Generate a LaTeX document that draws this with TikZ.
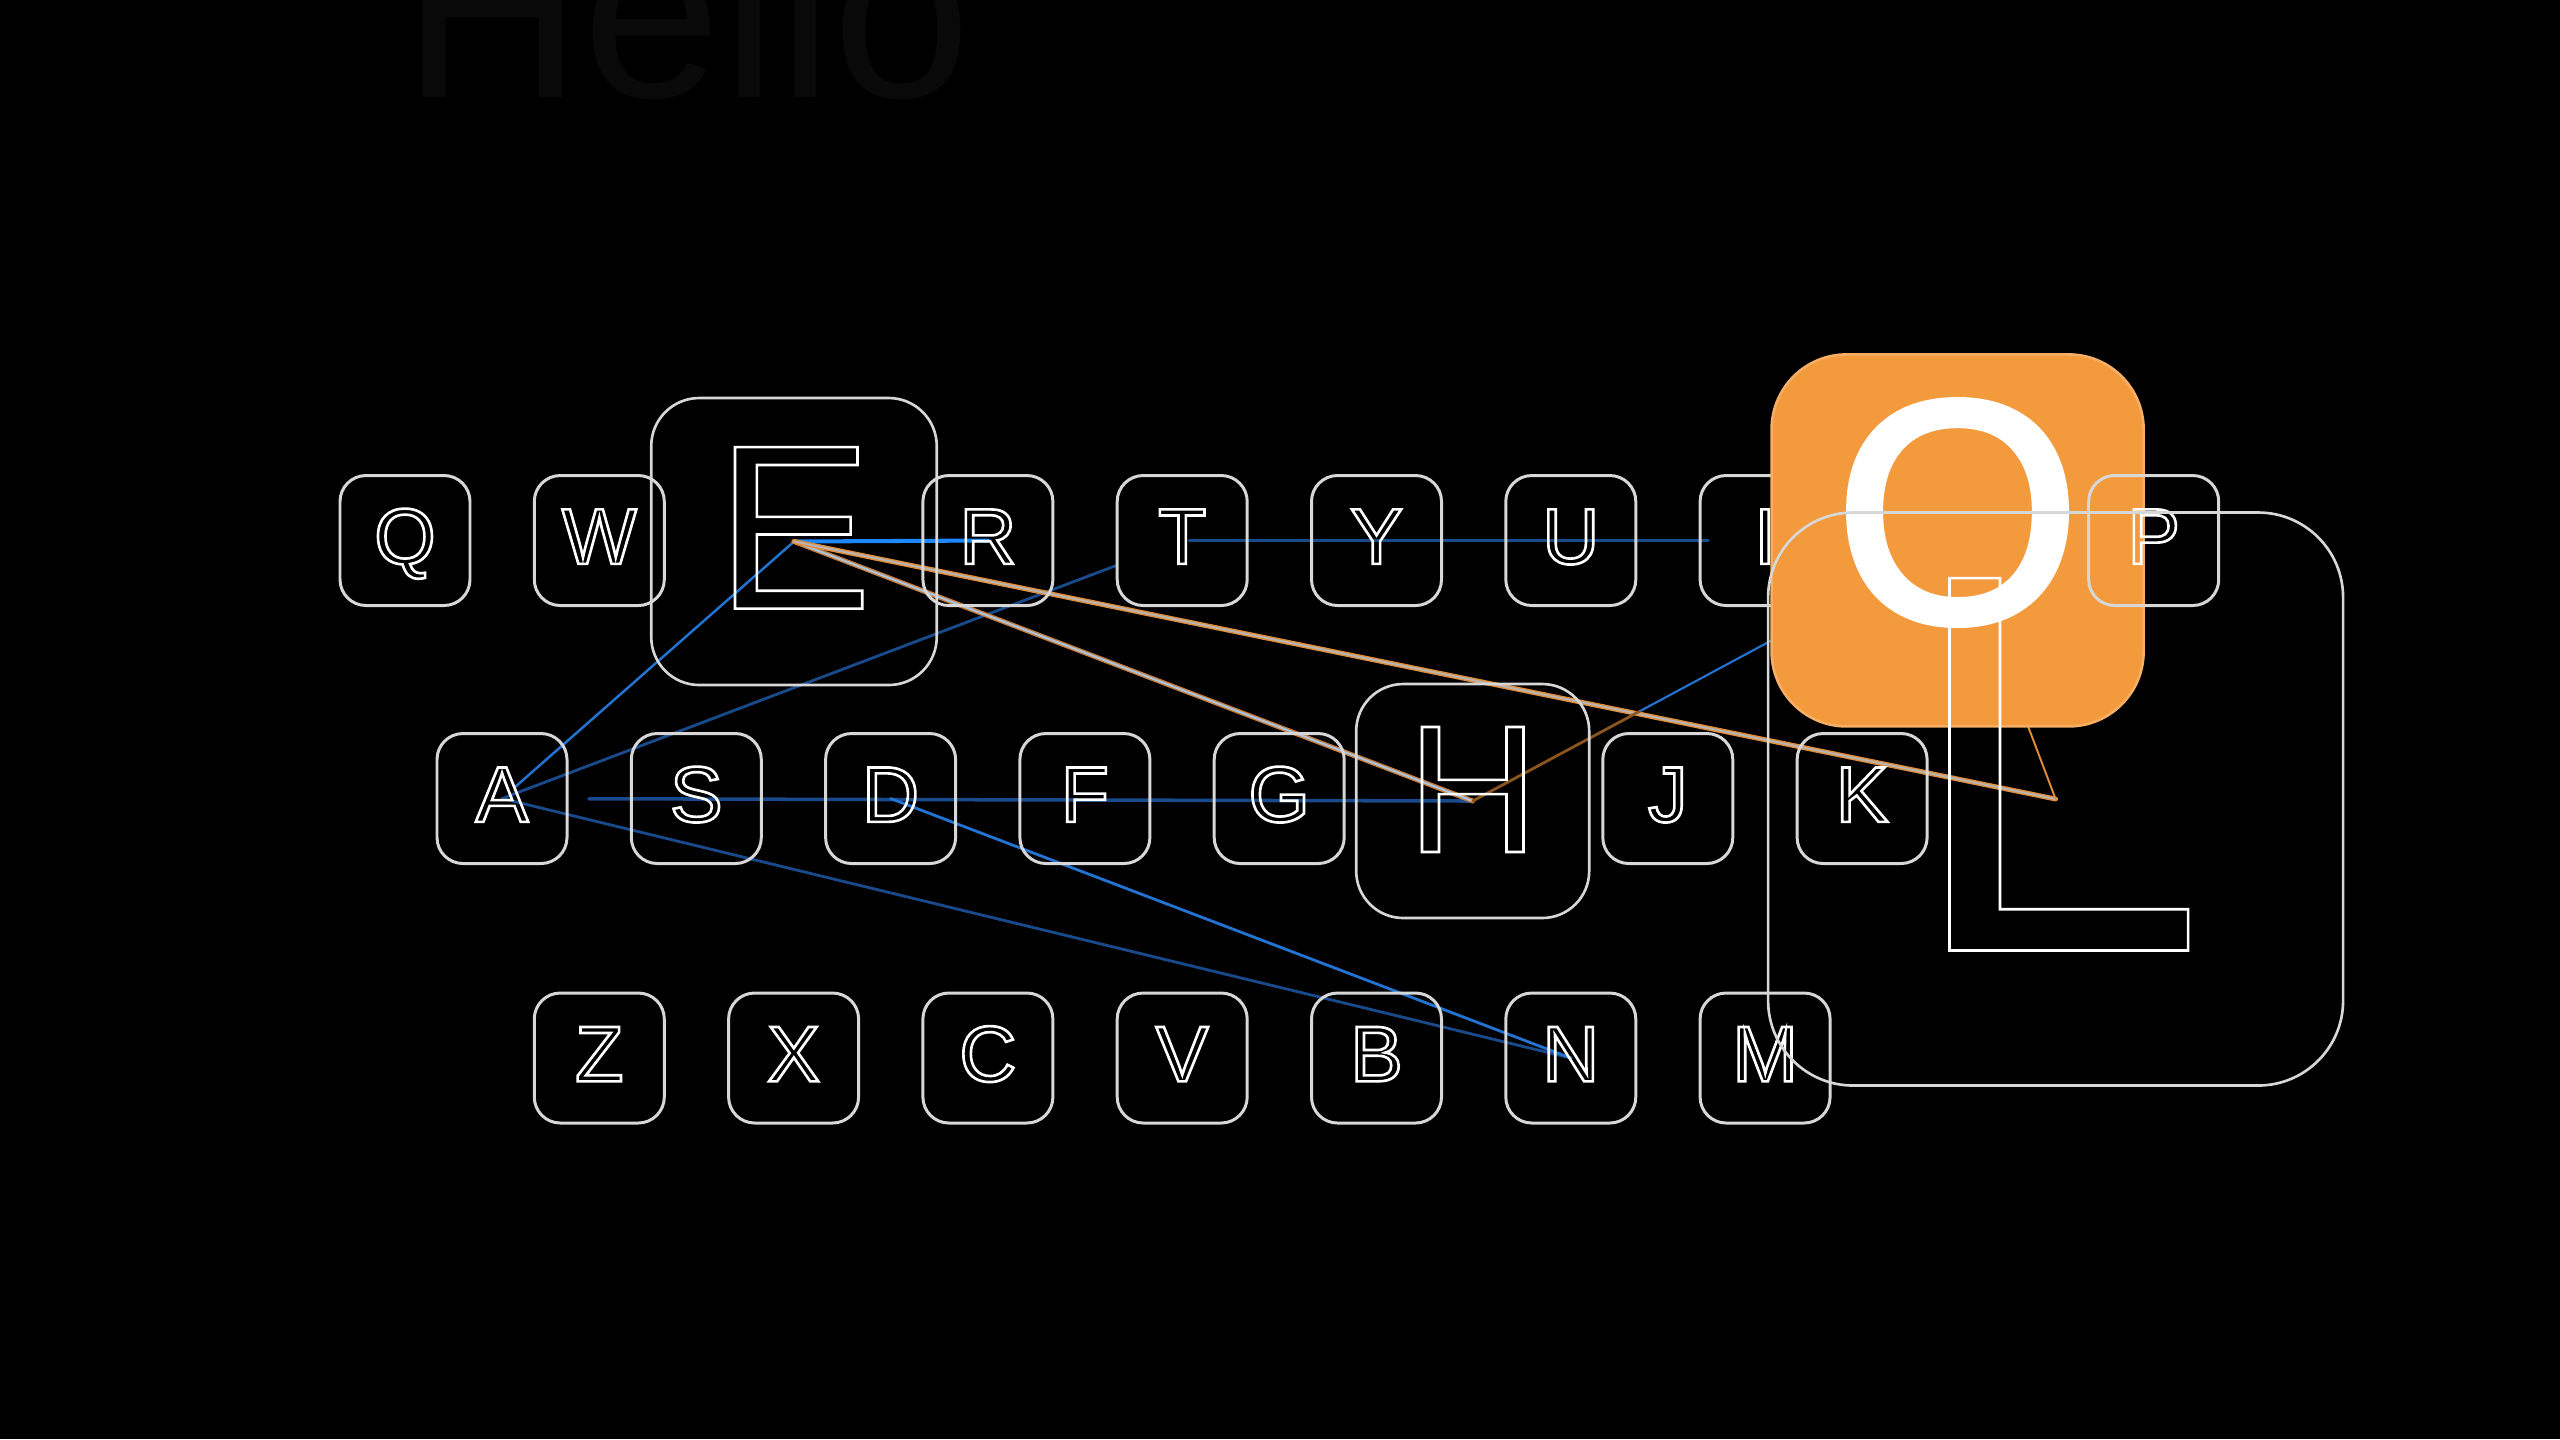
\documentclass[tikz,border=0pt]{standalone}
\usepackage{fontspec}
\setmainfont{Liberation Sans}
\definecolor{keyline}{RGB}{215,215,215}
\definecolor{swipeorange}{RGB}{243,154,60}
\definecolor{trailorange}{RGB}{225,140,55}
\definecolor{dimorange}{RGB}{140,85,30}
\definecolor{brightblue}{RGB}{30,136,255}
\definecolor{midblue}{RGB}{35,115,210}
\definecolor{dimblue}{RGB}{25,75,140}
\definecolor{ghost}{RGB}{9,9,9}
% outlined letters (stroke only)
\newcommand\strokeon{\special{pdf:literal direct 1 Tr 0.75 w}}
\newcommand\strokeoff{\special{pdf:literal direct 0 Tr}}
\newcommand\fatten{\special{pdf:literal direct 2 Tr 2 w}}
\pgfdeclarelayer{trail}
\pgfsetlayers{trail,main}
\tikzset{
  key/.style={draw=keyline, line width=0.85pt, rounded corners=0.26cm,
    minimum width=1.3cm, minimum height=1.3cm, inner sep=0pt, text=white,
    font=\fontsize{22.5pt}{22.5pt}\selectfont, text height=0.566cm, text depth=0.10cm,
    execute at begin node=\strokeon, execute at end node=\strokeoff},
  bigkey/.style={key, line width=0.75pt},
  trail/.style={line width=0.8pt, line cap=round},
}
\begin{document}
\begin{tikzpicture}
	\useasboundingbox (0,0) rectangle (25.6,-14.39);
	\begin{pgfonlayer}{trail}
	\fill[black] (0,0) rectangle (25.6,-14.39);
	\end{pgfonlayer}
	% faint word at the top
	\node[anchor=base west, inner sep=0pt, text=ghost, font=\fontsize{71pt}{71pt}\selectfont] (hello) at (4.02,-0.97) {Hello};
	% Top row
	\node[key] (Q) at (4.05,-5.405) {Q};
	\node[key] (W) at (5.993,-5.405) {W};
	\node[bigkey, minimum width=2.855cm, minimum height=2.87cm, rounded corners=0.48cm,
		font=\fontsize{66.8pt}{66.8pt}\selectfont, text height=1.683cm, text depth=0.34cm] (E) at (7.94,-5.415) {E};
	\node[key] (R) at (9.879,-5.405) {R};
	\node[key] (T) at (11.822,-5.405) {T};
	\node[key] (Y) at (13.765,-5.405) {Y};
	\node[key] (U) at (15.708,-5.405) {U};
	\node[key] (I) at (17.651,-5.405) {I};
	% Middle row
	\node[key] (A) at (5.02,-7.985) {A};
	\node[key] (S) at (6.963,-7.985) {S};
	\node[key] (D) at (8.906,-7.985) {D};
	\node[key] (F) at (10.849,-7.985) {F};
	\node[key] (G) at (12.792,-7.985) {G};
	\node[bigkey, minimum width=2.33cm, minimum height=2.34cm, rounded corners=0.47cm,
		font=\fontsize{51.7pt}{51.7pt}\selectfont, text height=1.30cm, text depth=0.28cm] (H) at (14.727,-8.01) {H};
	\node[key] (J) at (16.678,-7.985) {J};
	\node[key] (K) at (18.621,-7.985) {K};
	% Bottom row
	\node[key] (Z) at (5.993,-10.58) {Z};
	\node[key] (X) at (7.936,-10.58) {X};
	\node[key] (C) at (9.879,-10.58) {C};
	\node[key] (V) at (11.822,-10.58) {V};
	\node[key] (B) at (13.765,-10.58) {B};
	\node[key] (N) at (15.708,-10.58) {N};
	\node[key] (M) at (17.651,-10.58) {M};
	% Highlighted key
	\node[bigkey, draw=swipeorange!80!white, fill=swipeorange, minimum width=3.72cm, minimum height=3.72cm,
		rounded corners=0.75cm, font=\fontsize{90pt}{90pt}\selectfont, text height=2.26cm, text depth=0.64cm,
		execute at begin node=\fatten] (O) at (19.576,-5.404) {O};
	\node[key] (P) at (21.537,-5.405) {P};
	\node[bigkey, minimum width=5.75cm, minimum height=5.73cm, rounded corners=0.85cm,
		font=\fontsize{154pt}{154pt}\selectfont, text height=3.88cm, text depth=0.85cm] (L) at (20.556,-7.99) {L};
	% Swipe trails
	\begin{pgfonlayer}{trail}
	\draw[trail, brightblue, line width=1.15pt] (E.center) -- (R.center);
	\draw[trail, midblue, line width=0.7pt, shorten >=0.18cm] (E.center) -- (A.center);
	\draw[trail, dimblue] (A.center) -- (T);
	\draw[trail, dimblue, line width=1pt, shorten >=0.87cm] (H.center) -- (A.center);
	\draw[trail, dimblue] (A.center) -- (N.center);
	\draw[trail, midblue] (D.center) -- (N.center);
	\draw[trail, dimblue, line width=1pt, shorten <=0.07cm, shorten >=0.57cm] (T.center) -- (I.center);
	\draw[trail, line width=0.4pt, draw={rgb,255:red,200;green,125;blue,55}, double={rgb,255:red,170;green,195;blue,225}, double distance=0.6pt] (E.center) -- (H.center);
	\draw[trail, line width=0.4pt, draw=trailorange, double={rgb,255:red,185;green,180;blue,175}, double distance=0.6pt] (E.center) -- (L.center);
	\draw[trail, trailorange, line width=0.55pt] (L.center) -- (O.center);
	\draw[trail, dimorange, shorten >=3.6cm] (H.center) -- (O.center);
	\draw[trail, midblue, line width=0.6pt, shorten <=1.91cm] (H.center) -- (O.center);
	\end{pgfonlayer}
\end{tikzpicture}
\end{document}
